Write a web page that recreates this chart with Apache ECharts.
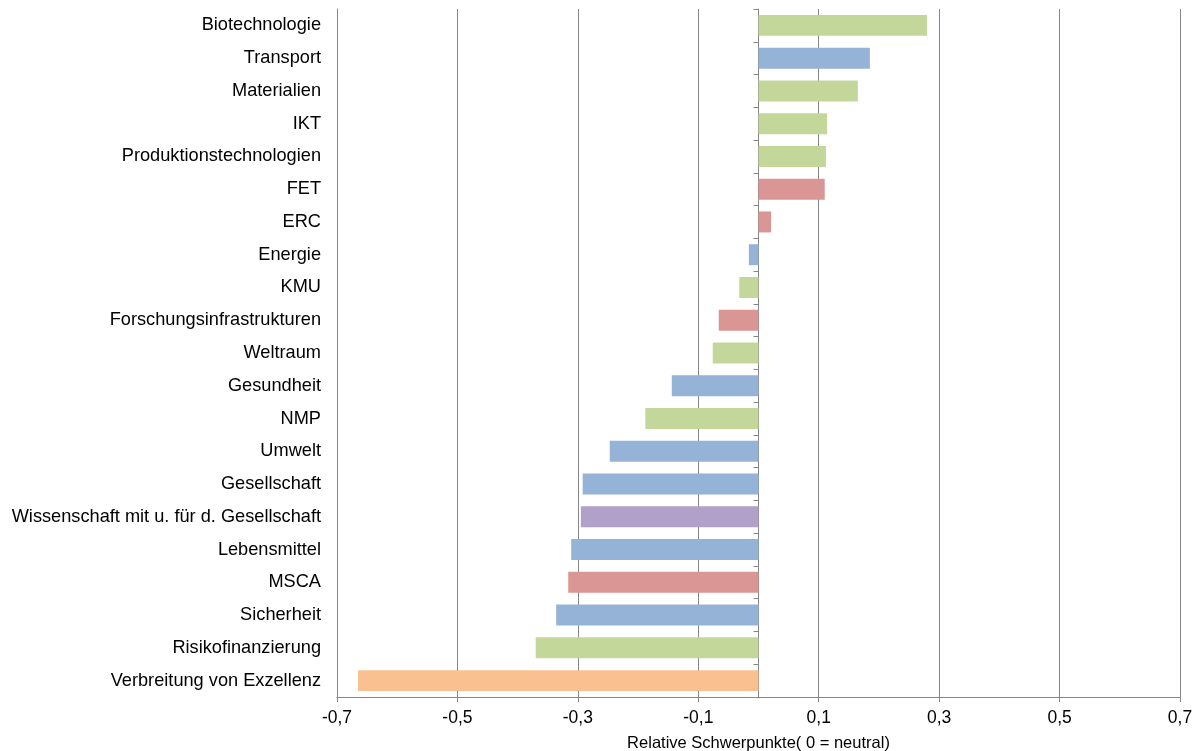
<!DOCTYPE html>
<html>
<head>
<meta charset="utf-8">
<script src="https://cdn.jsdelivr.net/npm/echarts@6/dist/echarts.min.js"></script>
<style>html,body{margin:0;padding:0;background:#fff}#c{width:1199px;height:751px}</style>
</head>
<body>
<div id="c"></div>
<script>
const categories = ["Biotechnologie","Transport","Materialien","IKT","Produktionstechnologien","FET","ERC","Energie","KMU","Forschungsinfrastrukturen","Weltraum","Gesundheit","NMP","Umwelt","Gesellschaft","Wissenschaft mit u. für d. Gesellschaft","Lebensmittel","MSCA","Sicherheit","Risikofinanzierung","Verbreitung von Exzellenz"];
const values = [0.280,0.185,0.165,0.114,0.112,0.110,0.021,-0.016,-0.032,-0.066,-0.076,-0.144,-0.188,-0.247,-0.292,-0.295,-0.311,-0.316,-0.336,-0.370,-0.665];
const groups = ["ind","soc","ind","ind","ind","exc","exc","soc","ind","exc","ind","soc","ind","soc","soc","swafs","soc","exc","soc","ind","spread"];
const xTicks = [-0.7,-0.5,-0.3,-0.1,0.1,0.3,0.5,0.7];
const axisTitle = "Relative Schwerpunkte( 0 = neutral)";

const groupColor = {ind:"#C4D79B", soc:"#95B3D7", exc:"#DA9694", swafs:"#B1A0C7", spread:"#FAC090"};
const fnt = "Arial, 'Liberation Sans', sans-serif";
const gridLeft = 337, gridRight = 19;
const plotW = 1199 - gridLeft - gridRight;
const xMin = xTicks[0], xMax = xTicks[xTicks.length-1];
const zeroOffset = -plotW * (0 - xMin) / (xMax - xMin);
const chart = echarts.init(document.getElementById('c'), null, {renderer:'canvas'});
chart.setOption({
  animation:false,
  backgroundColor:'#fff',
  grid:{left:gridLeft, right:gridRight, top:9, bottom:54, containLabel:false, outerBoundsMode:'none'},
  xAxis:{
    type:'value', min:xMin, max:xMax, interval:0.2,
    axisLine:{show:true, lineStyle:{color:'#868686', width:1}},
    axisTick:{show:true, length:5, lineStyle:{color:'#868686'}},
    splitLine:{show:true, lineStyle:{color:'#868686', width:1}},
    axisLabel:{color:'#000', fontFamily:fnt, fontSize:17.5, margin:12,
      formatter:v=>(Math.round(v*10)/10).toFixed(1).replace('.',',')},
    name:axisTitle, nameLocation:'middle', nameGap:38,
    nameTextStyle:{color:'#000', fontFamily:fnt, fontSize:16.5}
  },
  yAxis:[{
    type:'category', data:categories, inverse:true, position:'left',
    axisLine:{show:true, onZero:false, lineStyle:{color:'#868686', width:1}},
    axisTick:{show:false}, splitLine:{show:false},
    axisLabel:{color:'#000', fontFamily:fnt, fontSize:18.2, margin:16}
  },{
    type:'category', data:categories, inverse:true, position:'left', offset:zeroOffset,
    axisLine:{show:true, onZero:false, lineStyle:{color:'#868686', width:1}},
    axisTick:{show:true, length:5, lineStyle:{color:'#868686'}},
    axisLabel:{show:false}, splitLine:{show:false}
  }],
  series:[{
    type:'bar', yAxisIndex:0, barCategoryGap:'36%',
    data:values.map((v,i)=>({value:v, itemStyle:{color:groupColor[groups[i]]}}))
  }]
});
</script>
</body>
</html>
